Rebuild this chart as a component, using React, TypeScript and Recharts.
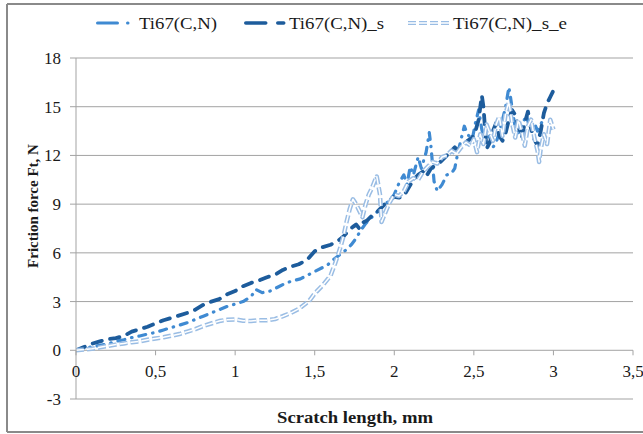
import React from 'react';
import { LineChart, Line, XAxis, YAxis, CartesianGrid } from 'recharts';

// Series names, shown in the legend
const seriesNames = ['Ti67(C,N)', 'Ti67(C,N)_s', 'Ti67(C,N)_s_e'];

// Axis ticks
const xTicks = [0, 0.5, 1, 1.5, 2, 2.5, 3, 3.5];
const yTicks = [-3, 0, 3, 6, 9, 12, 15, 18];

// Ti67(C,N): scratch length (mm) and friction force (N)
const baseLen = [
  0, 0.05, 0.1, 0.15, 0.2, 0.25, 0.3, 0.35, 0.4, 0.45, 0.5, 0.55, 0.6, 0.65, 0.7, 0.75, 0.8, 0.85, 0.9, 0.95,
  1.0, 1.05, 1.1, 1.13, 1.17, 1.22, 1.27, 1.32, 1.37, 1.41, 1.45, 1.5, 1.55, 1.58, 1.62, 1.66, 1.7, 1.73, 1.76, 1.79,
  1.82, 1.85, 1.88, 1.91, 1.94, 1.97, 2.0, 2.03, 2.06, 2.08, 2.1, 2.12, 2.15, 2.17, 2.2, 2.22, 2.23, 2.25, 2.27, 2.3,
  2.33, 2.36, 2.38, 2.4, 2.42, 2.44, 2.46, 2.49, 2.51, 2.53, 2.55, 2.57, 2.6, 2.62, 2.64, 2.66, 2.68, 2.7, 2.72, 2.73,
  2.75, 2.77, 2.8, 2.83, 2.85, 2.88, 2.9, 2.93,
];
const baseForce = [
  0, 0.1, 0.22, 0.3, 0.4, 0.55, 0.65, 0.78, 0.88, 1.0, 1.1, 1.25, 1.4, 1.55, 1.7, 1.9, 2.1, 2.3, 2.5, 2.7,
  2.85, 3.0, 3.3, 3.75, 3.55, 3.65, 3.9, 4.15, 4.3, 4.4, 4.6, 4.85, 5.1, 5.25, 5.6, 5.9, 6.2, 6.5, 6.9, 7.4,
  7.8, 8.1, 8.4, 8.7, 9.0, 9.2, 9.6, 10.3, 10.8, 10.2, 11.3, 10.8, 11.9, 11.2, 12.2, 13.4, 12.6, 10.4, 9.8, 10.2,
  10.8, 10.9, 11.2, 12.2, 13.0, 13.8, 13.3, 13.0, 14.0, 14.8, 13.6, 12.9, 13.2, 12.5, 12.8, 13.4, 14.2, 15.0, 16.2, 15.6,
  14.3, 13.2, 13.8, 14.5, 13.7, 14.0, 13.5, 14.1,
];

// Ti67(C,N)_s
const sLen = [
  0, 0.05, 0.1, 0.15, 0.2, 0.25, 0.3, 0.35, 0.4, 0.45, 0.5, 0.55, 0.6, 0.65, 0.7, 0.75, 0.8, 0.85, 0.9, 0.95,
  1.0, 1.05, 1.1, 1.15, 1.2, 1.25, 1.3, 1.35, 1.4, 1.45, 1.5, 1.55, 1.6, 1.64, 1.68, 1.71, 1.74, 1.76, 1.78, 1.8,
  1.83, 1.86, 1.89, 1.92, 1.95, 1.98, 2.0, 2.03, 2.06, 2.09, 2.12, 2.15, 2.18, 2.2, 2.23, 2.26, 2.29, 2.32, 2.35, 2.38,
  2.4, 2.43, 2.46, 2.49, 2.51, 2.53, 2.55, 2.56, 2.58, 2.6, 2.62, 2.64, 2.66, 2.68, 2.7, 2.72, 2.74, 2.76, 2.78, 2.8,
  2.82, 2.84, 2.86, 2.88, 2.9, 2.92, 2.94, 2.96, 2.98, 3.0,
];
const sForce = [
  0, 0.2, 0.4, 0.55, 0.68, 0.75, 0.88, 1.15, 1.3, 1.45, 1.65, 1.85, 2.0, 2.15, 2.3, 2.5, 2.8, 3.0, 3.15, 3.45,
  3.65, 3.95, 4.15, 4.3, 4.5, 4.65, 4.95, 5.15, 5.3, 5.55, 6.1, 6.35, 6.5, 6.7, 7.0, 7.35, 7.6, 7.75, 7.5, 7.85,
  8.0, 8.3, 8.5, 8.8, 9.1, 9.3, 9.45, 9.4, 9.5, 10.0, 10.5, 10.8, 11.0, 10.7, 11.2, 11.4, 11.6, 11.9, 12.2, 12.5,
  12.3, 12.6, 12.9, 13.1, 13.5, 14.2, 15.7, 15.0, 12.4, 12.8, 13.5, 14.0, 13.2, 12.9, 13.4, 14.2, 14.8, 14.5, 13.8, 13.1,
  14.0, 14.7, 13.6, 13.0, 12.6, 13.5, 14.6, 15.2, 15.6, 16.0,
];

// Ti67(C,N)_s_e
const seLen = [
  0, 0.05, 0.1, 0.15, 0.2, 0.25, 0.3, 0.35, 0.4, 0.45, 0.5, 0.55, 0.6, 0.65, 0.7, 0.75, 0.8, 0.85, 0.9, 0.95,
  1.0, 1.05, 1.1, 1.15, 1.2, 1.25, 1.3, 1.35, 1.4, 1.44, 1.47, 1.5, 1.55, 1.6, 1.63, 1.66, 1.68, 1.7, 1.72, 1.74,
  1.76, 1.78, 1.8, 1.82, 1.84, 1.86, 1.88, 1.89, 1.91, 1.92, 1.94, 1.97, 2.0, 2.03, 2.06, 2.09, 2.12, 2.15, 2.18, 2.21,
  2.24, 2.27, 2.3, 2.33, 2.36, 2.39, 2.42, 2.45, 2.48, 2.5, 2.52, 2.54, 2.56, 2.58, 2.6, 2.62, 2.64, 2.66, 2.68, 2.7,
  2.72, 2.74, 2.76, 2.78, 2.8, 2.82, 2.84, 2.86, 2.88, 2.9, 2.91, 2.92, 2.94, 2.96, 2.98, 3.0,
];
const seForce = [
  0, 0.05, 0.1, 0.18, 0.27, 0.35, 0.42, 0.5, 0.55, 0.65, 0.72, 0.8, 0.9, 1.0, 1.15, 1.3, 1.5, 1.65, 1.8, 1.88,
  1.9, 1.82, 1.8, 1.85, 1.85, 1.92, 2.1, 2.3, 2.55, 2.85, 3.1, 3.5, 4.0, 4.6, 5.4, 6.3, 7.0, 7.9, 8.7, 9.3,
  9.0, 8.6, 8.2, 9.0, 9.6, 10.0, 10.5, 10.7, 9.6, 7.9, 8.4, 9.1, 9.6, 9.5, 9.8, 10.4, 10.6, 10.5, 11.0, 11.3,
  11.6, 11.5, 11.9, 12.0, 12.3, 12.1, 12.5, 12.8, 12.6, 13.0, 12.2, 13.3, 12.7, 13.9, 13.4, 12.9, 13.9, 14.4, 13.2, 14.6,
  15.3, 14.0, 13.1, 14.2, 13.5, 12.6, 13.8, 14.2, 13.1, 12.3, 11.6, 12.4, 13.3, 12.7, 14.2, 13.6,
];

const toPoints = (xs: number[], ys: number[]) => xs.map((x, i) => ({ len: x, force: ys[i] }));
const baseData = toPoints(baseLen, baseForce);
const sData = toPoints(sLen, sForce);
const seData = toPoints(seLen, seForce);

// Colours
const C_BASE = '#3f8ad2';
const C_S = '#1d5c9c';
const C_SE = '#9abde4';
const GRID = '#a3a3a3';
const TEXT = '#1a1a1a';
const FONT = 'Liberation Serif';

// Layout
const W = 643;
const H = 434;
const PLOT_LEFT = 76;
const PLOT_TOP = 58;
const PLOT_BOTTOM = 399;
const PLOT_RIGHT = 633;
const Y_MIN = -3;
const Y_MAX = 18;
// vertical position of the zero line, where the horizontal axis sits
const ZERO_Y = PLOT_BOTTOM - ((PLOT_BOTTOM - PLOT_TOP) * (0 - Y_MIN)) / (Y_MAX - Y_MIN);

const fmt = (v: number) => String(v).replace('.', ',');

const XTick = (props: any) => {
  const { x, payload } = props;
  return (
    <g>
      <line x1={x} x2={x} y1={ZERO_Y} y2={ZERO_Y + 5} stroke={GRID} strokeWidth={1} />
      <text
        x={x}
        y={ZERO_Y + 27}
        textAnchor="middle"
        fontFamily={FONT}
        fontSize={17}
        fill={TEXT}
      >
        {fmt(payload.value)}
      </text>
    </g>
  );
};

const LegendSwatch = ({ idx, x, y }: { idx: number; x: number; y: number }) => {
  if (idx === 0) {
    return (
      <line x1={x + 1.5} x2={x + 34} y1={y} y2={y} stroke={C_BASE} strokeWidth={3}
        strokeDasharray="20 10 0.5 30" strokeLinecap="round" />
    );
  }
  if (idx === 1) {
    return (
      <line x1={x + 1.75} x2={x + 42} y1={y} y2={y} stroke={C_S} strokeWidth={3.5}
        strokeDasharray="20 12 6 20" strokeLinecap="round" />
    );
  }
  return (
    <g>
      <line x1={x} x2={x + 43} y1={y} y2={y} stroke={C_SE} strokeWidth={4} strokeDasharray="8 3" />
      <line x1={x} x2={x + 43} y1={y} y2={y} stroke="#ffffff" strokeWidth={1.4} strokeDasharray="8 3" />
    </g>
  );
};

const legendItems = [
  { swatchX: 96, textX: 139, textW: 78 },
  { swatchX: 244, textX: 289, textW: 95 },
  { swatchX: 408, textX: 453, textW: 114 },
];

export default function App() {
  return (
    <div style={{ position: 'absolute', left: 0, top: 0, width: W, height: H, background: '#ffffff' }}>
      <LineChart
        width={W}
        height={H}
        margin={{ top: PLOT_TOP, right: W - PLOT_RIGHT, bottom: 0, left: 0 }}
      >
        <CartesianGrid vertical={false} stroke={GRID} strokeWidth={1} />
        <XAxis
          dataKey="len"
          type="number"
          domain={[0, 3.5]}
          ticks={xTicks}
          interval={0}
          allowDataOverflow
          height={H - PLOT_BOTTOM}
          axisLine={false}
          tickLine={false}
          tick={<XTick />}
        />
        <YAxis
          type="number"
          domain={[Y_MIN, Y_MAX]}
          ticks={yTicks}
          interval={0}
          width={PLOT_LEFT}
          axisLine={{ stroke: GRID }}
          tickLine={{ stroke: GRID }}
          tickSize={6}
          tickMargin={9}
          tick={{ fontFamily: FONT, fontSize: 17, fill: TEXT }}
        />
        <Line
          data={baseData}
          dataKey="force"
          type="linear"
          stroke={C_BASE}
          strokeWidth={3.2}
          strokeDasharray="7 7 0.5 7"
          strokeLinecap="round"
          strokeLinejoin="round"
          dot={false}
          isAnimationActive={false}
        />
        <Line
          data={sData}
          dataKey="force"
          type="linear"
          stroke={C_S}
          strokeWidth={3.8}
          strokeDasharray="9.5 8.5"
          strokeLinecap="round"
          strokeLinejoin="round"
          dot={false}
          isAnimationActive={false}
        />
        <Line
          data={seData}
          dataKey="force"
          type="linear"
          stroke={C_SE}
          strokeWidth={4.5}
          strokeDasharray="8 3"
          strokeLinejoin="round"
          dot={false}
          isAnimationActive={false}
        />
        <Line
          data={seData}
          dataKey="force"
          type="linear"
          stroke="#ffffff"
          strokeWidth={1.5}
          strokeDasharray="8 3"
          strokeLinejoin="round"
          dot={false}
          legendType="none"
          isAnimationActive={false}
        />
      </LineChart>
      <svg
        width={W}
        height={H}
        style={{ position: 'absolute', left: 0, top: 0, pointerEvents: 'none' }}
      >
        {/* outer frame */}
        <line x1={7} x2={W} y1={4} y2={4} stroke="#8a8a8a" strokeWidth={2} />
        <line x1={7} x2={7} y1={4} y2={432} stroke="#8a8a8a" strokeWidth={2} />
        <line x1={7} x2={W} y1={432} y2={432} stroke="#8a8a8a" strokeWidth={2} />
        {/* legend */}
        {legendItems.map((it, i) => (
          <g key={seriesNames[i]}>
            <LegendSwatch idx={i} x={it.swatchX} y={23} />
            <text
              x={it.textX}
              y={29}
              fontFamily={FONT}
              fontSize={17}
              fill={TEXT}
              textLength={it.textW}
              lengthAdjust="spacingAndGlyphs"
            >
              {seriesNames[i]}
            </text>
          </g>
        ))}
        {/* axis titles */}
        <text
          x={355}
          y={423}
          textAnchor="middle"
          fontFamily={FONT}
          fontSize={16}
          fontWeight="bold"
          fill={TEXT}
          textLength={156}
          lengthAdjust="spacingAndGlyphs"
        >
          Scratch length, mm
        </text>
        <text
          transform="translate(38 206) rotate(-90)"
          textAnchor="middle"
          fontFamily={FONT}
          fontSize={15}
          fontWeight="bold"
          fill={TEXT}
        >
          Friction force Ft, N
        </text>
      </svg>
    </div>
  );
}
